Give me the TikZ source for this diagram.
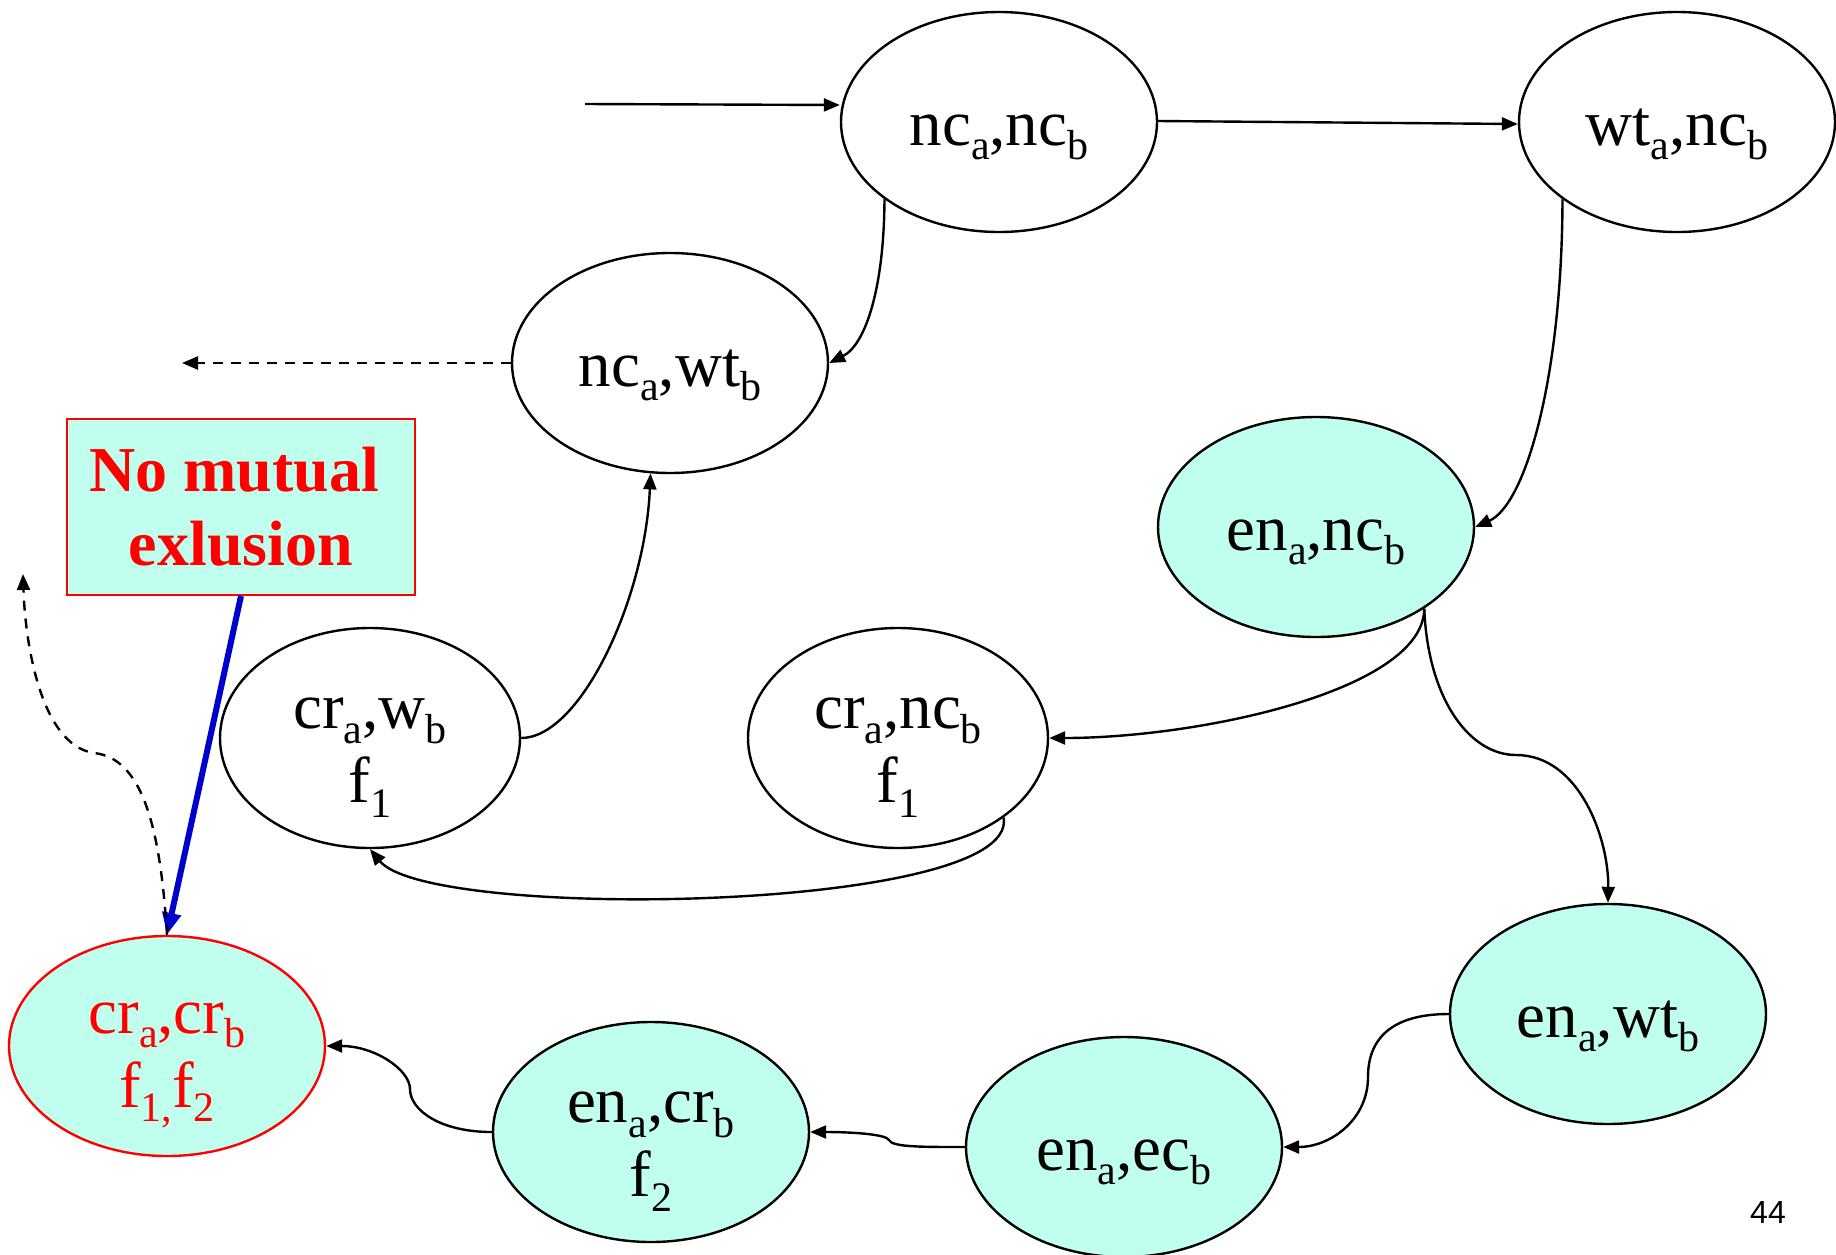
\documentclass[tikz,border=0pt]{standalone}
\usepackage{fontspec}
\setmainfont{Liberation Serif}
\newfontfamily\sansx{Liberation Sans}
\usetikzlibrary{shapes.geometric,arrows.meta}
\definecolor{aqua}{RGB}{192,255,238}
\definecolor{bluex}{RGB}{0,0,204}
\newcommand\sbx[1]{\raisebox{-0.22em}{\fontsize{21}{21}\selectfont #1}}
\newcommand\tpa{\rule{0pt}{31pt}}
\newcommand\tpb{\rule{0pt}{35pt}}
\begin{document}
\begin{tikzpicture}[x=0.5pt,y=-0.5pt,
  st/.style={ellipse, draw=black, line width=1.2pt, minimum width=158pt, minimum height=110pt, inner sep=-25pt, align=center, font=\fontsize{32.5}{37}\selectfont},
  stn/.style={st, minimum width=150pt},
  acc/.style={st, fill=aqua},
  bad/.style={st, fill=aqua, draw=red, text=red},
  arr/.style={line width=1.2pt, -{Triangle[length=8pt,width=6.5pt]}},
  darr/.style={arr, dash pattern=on 5pt off 4pt}]
\useasboundingbox (0,0) rectangle (1836,1254);
\node[st] (n1) at (999,122) {\tpa nc\sbx{a},nc\sbx{b}};
\node[st] (n2) at (1677,122) {\tpa wt\sbx{a},nc\sbx{b}};
\node[st] (n3) at (670,363) {\tpa nc\sbx{a},wt\sbx{b}};
\node[acc] (n4) at (1316,527) {\tpa en\sbx{a},nc\sbx{b}};
\node[stn] (n5) at (370,738) {\tpb cr\sbx{a},w\sbx{b}\\f\sbx{1}};
\node[stn] (n6) at (898,738) {\tpb cr\sbx{a},nc\sbx{b}\\f\sbx{1}};
\node[acc] (n7) at (1608,1014) {\tpa en\sbx{a},wt\sbx{b}};
\node[acc] (n8) at (1124,1147) {\tpa en\sbx{a},ec\sbx{b}};
\node[acc] (n9) at (651,1132) {\tpb en\sbx{a},cr\sbx{b}\\f\sbx{2}};
\node[bad] (n10) at (167,1046) {\tpb cr\sbx{a},cr\sbx{b}\\f\sbx{1,}f\sbx{2}};
\node[draw=red, fill=aqua, line width=1pt, minimum width=174pt, minimum height=88pt, inner sep=0pt, align=center, text=red, font=\bfseries\fontsize{32}{37}\selectfont] (box) at (241,507) {No mutual\hspace*{7pt}\\exlusion};
\node[font=\sansx\fontsize{16}{16}\selectfont] (pg) at (1768,1212) {44};
\coordinate (init) at (585,104);
\coordinate (dl) at (182,363);
\coordinate (du) at (23,574);
\draw[arr] (init) -- (n1.west |- 0,105);
\draw[arr] (n1.east |- 0,121) -- (n2.west |- 0,124);
\draw[arr] (n1.214) .. controls (884,290) and (865,345) .. (n3.east);
\draw[arr] (n2.214) .. controls (1562,380) and (1525,505) .. (n4.east);
\draw[darr] (n3.west) -- (dl);
\draw[arr] (n4.323) .. controls (1424,690) and (1200,738) .. (n6.east);
\draw[arr] (n4.323) .. controls (1428,700) and (1470,755) .. (1516,755) .. controls (1580,755) and (1609,840) .. (n7.north);
\draw[arr] (n6.323) .. controls (1020,912) and (430,922) .. (n5.south);
\draw[arr] (n5.east) .. controls (580,738) and (645,600) .. (n3.260);
\draw[arr] (n7.west) .. controls (1390,1014) and (1368,1040) .. (1368,1077) .. controls (1368,1120) and (1330,1147) .. (n8.east);
\draw[arr] (n8.west) .. controls (920,1147) and (892,1147) .. (889,1140) .. controls (886,1134) and (850,1132) .. (n9.east);
\draw[arr] (n9.west) .. controls (440,1132) and (410,1110) .. (410,1089) .. controls (410,1070) and (375,1046) .. (n10.east);
\draw[line width=3pt, bluex, -{Triangle[length=11pt,width=9pt]}] (box.south) -- (n10.north);
\draw[darr] (n10.north) .. controls (160,820) and (140,758) .. (94,753) .. controls (40,745) and (25,640) .. (du);
\end{tikzpicture}
\end{document}
